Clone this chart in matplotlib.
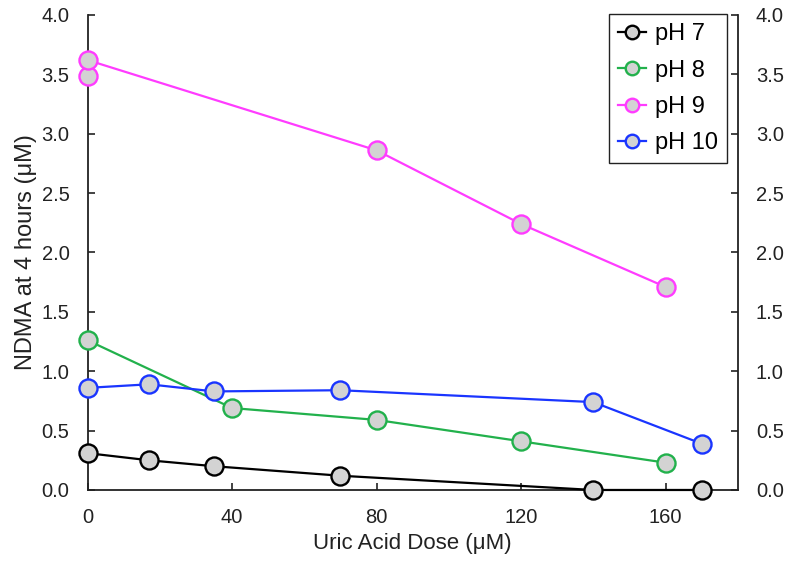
import matplotlib
matplotlib.use("Agg")
import matplotlib.pyplot as plt

plt.rcParams['font.family'] = ['Liberation Sans', 'DejaVu Sans']

# Data
ph7_x = [0, 17, 35, 70, 140, 170]
ph7_y = [0.31, 0.25, 0.20, 0.12, 0.0, 0.0]
ph8_x = [0, 40, 80, 120, 160]
ph8_y = [1.26, 0.69, 0.59, 0.41, 0.23]
ph9_x = [0, 0, 80, 120, 160]
ph9_y = [3.49, 3.62, 2.86, 2.24, 1.71]
ph10_x = [0, 17, 35, 70, 140, 170]
ph10_y = [0.86, 0.89, 0.83, 0.84, 0.74, 0.39]

series = [
    ("pH 7", ph7_x, ph7_y, "#000000"),
    ("pH 8", ph8_x, ph8_y, "#22b14c"),
    ("pH 9", ph9_x, ph9_y, "#ff3cff"),
    ("pH 10", ph10_x, ph10_y, "#1a35ff"),
]

x_ticks = [0, 40, 80, 120, 160]
y_ticks = [0.0, 0.5, 1.0, 1.5, 2.0, 2.5, 3.0, 3.5, 4.0]

fig = plt.figure(figsize=(7.87, 5.61), dpi=100)
ax = fig.add_axes([0.1114, 0.1266, 0.8260, 0.8467])

for label, xs, ys, c in series:
    ax.plot(xs, ys, color=c, lw=1.6, marker='o', ms=13, mfc='#d3d3d3',
            mec=c, mew=1.7, label=label, clip_on=False, zorder=3)

ax.set_xlim(0, 180)
ax.set_ylim(0, 4.0)
ax.set_xticks(x_ticks)
ax.set_yticks(y_ticks)
ax.set_yticklabels([f"{v:.1f}" for v in y_ticks])

ax.spines['top'].set_visible(False)
for s in ['left', 'right', 'bottom']:
    ax.spines[s].set_linewidth(1.3)
    ax.spines[s].set_color('#222222')

ax.tick_params(axis='both', direction='in', length=5, width=1.2, labelsize=14.5,
               pad=13, colors='#222222', labelcolor='#222222')
ax.tick_params(axis='y', right=True, labelright=True)

ax.set_xlabel("Uric Acid Dose (μM)", fontsize=16, labelpad=4, color='#222222')
ax.set_ylabel("NDMA at 4 hours (μM)", fontsize=17, labelpad=3, color='#222222')

leg = ax.legend(loc='upper right', bbox_to_anchor=(0.9835, 1.002), borderaxespad=0,
                fontsize=17, markerscale=0.75, handlelength=1.2, handletextpad=0.35,
                labelspacing=0.6, borderpad=0.4, fancybox=False, framealpha=1,
                edgecolor='#222222')
leg.get_frame().set_linewidth(1.0)

fig.savefig("out.png", dpi=100)
